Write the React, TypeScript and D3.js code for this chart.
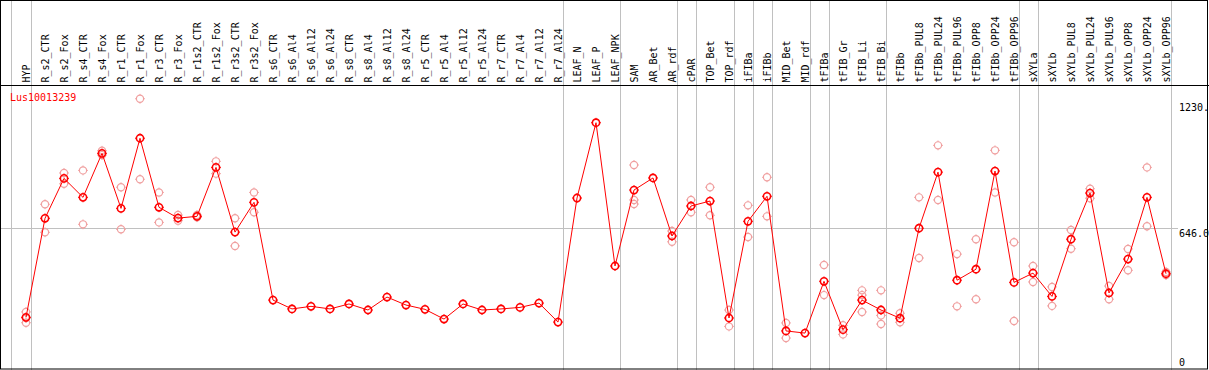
import React, { useEffect, useRef } from 'react';
import * as d3 from 'd3';

const geneId = 'Lus10013239';

const categories = [
  'HYP', 'R_s2_CTR', 'R_s2_Fox', 'R_s4_CTR', 'R_s4_Fox', 'R_r1_CTR', 'R_r1_Fox', 'R_r3_CTR', 'R_r3_Fox',
  'R_r1s2_CTR', 'R_r1s2_Fox', 'R_r3s2_CTR', 'R_r3s2_Fox', 'R_s6_CTR', 'R_s6_Al4', 'R_s6_Al12', 'R_s6_Al24',
  'R_s8_CTR', 'R_s8_Al4', 'R_s8_Al12', 'R_s8_Al24', 'R_r5_CTR', 'R_r5_Al4', 'R_r5_Al12', 'R_r5_Al24',
  'R_r7_CTR', 'R_r7_Al4', 'R_r7_Al12', 'R_r7_Al24', 'LEAF_N', 'LEAF_P', 'LEAF_NPK', 'SAM', 'AR_Bet', 'AR_rdf',
  'cPAR', 'TOP_Bet', 'TOP_rdf', 'iFIBa', 'iFIBb', 'MID_Bet', 'MID_rdf', 'tFIBa', 'tFIB_Gr', 'tFIB_Li', 'tFIB_Bi',
  'tFIBb', 'tFIBb_PUL8', 'tFIBb_PUL24', 'tFIBb_PUL96', 'tFIBb_OPP8', 'tFIBb_OPP24', 'tFIBb_OPP96',
  'sXYLa', 'sXYLb', 'sXYLb_PUL8', 'sXYLb_PUL24', 'sXYLb_PUL96', 'sXYLb_OPP8', 'sXYLb_OPP24', 'sXYLb_OPP96',
];

const means = [
  232, 691, 876, 788, 992, 737, 1062, 742, 692,
  700, 927, 627, 765, 312, 271, 283, 271,
  294, 266, 326, 289, 269, 224, 294, 266,
  271, 278, 298, 210, 785, 1134, 470, 822, 878, 609,
  748, 771, 229, 677, 793, 169, 159, 399, 175, 312, 266,
  228, 645, 905, 404, 455, 910, 394,
  437, 329, 594, 808, 345, 502, 788, 434,
];

const replicates = [
  [257, 229, 207], [756, 626], [901, 851], [913, 663], [1004, 984], [835, 640], [1245, 872], [811, 672], [706, 680],
  [706, 696], [955, 898], [691, 563], [811, 719], [], [], [], [],
  [], [], [], [], [], [], [], [],
  [], [], [], [], [], [], [], [938, 776, 757], [], [632, 582],
  [776, 719], [835, 705], [266, 190], [751, 604], [881, 700], [206, 136], [], [475, 335], [195, 153], [357, 335, 257], [357, 241, 201],
  [251, 209], [788, 507], [1029, 776], [525, 283], [594, 316], [1006, 811], [580, 215],
  [470, 396], [373, 285], [637, 550], [828, 784], [377, 316], [549, 450], [927, 654], [442, 428],
];

// a grey separator is drawn after each of these
const groupEnds = ['HYP', 'R_r7_Al24', 'LEAF_NPK', 'AR_rdf', 'cPAR', 'TOP_rdf', 'iFIBa', 'iFIBb', 'MID_rdf',
  'tFIBa', 'tFIB_Bi', 'tFIBb_OPP96', 'sXYLa', 'sXYLb_OPP96'];

const yTicks = [0, 646, 1230];
const yTickLabels = ['0', '646.0', '1230.0'];

const W = 1209;
const H = 370;
const FONT = '"DejaVu Sans Mono", monospace';

function marker(g, cx, cy, color, sw) {
  const r = 3.6;
  g.append('circle')
    .attr('cx', cx).attr('cy', cy).attr('r', r)
    .attr('fill', 'none').attr('stroke', color).attr('stroke-width', sw);
  [[0, -1], [0, 1], [-1, 0], [1, 0]].forEach(([dx, dy]) => {
    g.append('line')
      .attr('x1', cx + dx * r).attr('y1', cy + dy * r)
      .attr('x2', cx + dx * (r + 1.3)).attr('y2', cy + dy * (r + 1.3))
      .attr('stroke', color).attr('stroke-width', 1);
  });
}

export default function App() {
  const ref = useRef(null);

  useEffect(() => {
    const svg = d3.select(ref.current);
    svg.selectAll('*').remove();

    const xScale = d3.scalePoint().domain(categories).range([26, 1166]);
    const step = xScale.step();
    const yScale = d3.scaleLinear().domain([0, 1230]).range([367.4, 102]);

    svg.append('rect').attr('x', 0).attr('y', 0).attr('width', W).attr('height', H).attr('fill', '#fff');

    // grey separators
    const sepX = [xScale(categories[0]) - step * 0.8, ...groupEnds.map((c) => xScale(c) + step * 0.25)];
    svg.selectAll('line.sep')
      .data(sepX)
      .enter()
      .append('line')
        .attr('x1', (d) => Math.round(d) + 0.5)
        .attr('x2', (d) => Math.round(d) + 0.5)
        .attr('y1', 0)
        .attr('y2', H)
        .attr('stroke', '#c0c0c0')
        .attr('stroke-width', 1);

    // horizontal reference line
    svg.append('line')
      .attr('x1', 1).attr('x2', 1178)
      .attr('y1', Math.round(yScale(646)) + 0.5).attr('y2', Math.round(yScale(646)) + 0.5)
      .attr('stroke', '#c0c0c0');

    // header labels
    svg.selectAll('text.cat')
      .data(categories)
      .enter()
      .append('text')
        .attr('transform', (d) => `translate(${xScale(d) + 0.5}, 82.5) rotate(-90)`)
        .attr('dy', '0.35em')
        .attr('font-family', FONT)
        .attr('font-size', 10)
        .attr('fill', '#000')
        .text((d) => d);

    svg.append('line')
      .attr('x1', 0).attr('x2', W).attr('y1', 85.5).attr('y2', 85.5)
      .attr('stroke', '#000');

    // y labels
    svg.selectAll('text.ytick')
      .data(yTicks)
      .enter()
      .append('text')
        .attr('x', 1179)
        .attr('y', (d, i) => (i === 0 ? 366 : yScale(d) + 8.5))
        .attr('font-family', FONT)
        .attr('font-size', 10)
        .attr('fill', '#000')
        .text((d, i) => yTickLabels[i]);

    svg.append('text')
      .attr('x', 10).attr('y', 100.5)
      .attr('font-family', FONT)
      .attr('font-size', 10)
      .attr('fill', '#ff0000')
      .text(geneId);

    // replicates
    const repG = svg.append('g');
    categories.forEach((c, i) => {
      replicates[i].forEach((v) => marker(repG, xScale(c), yScale(v), '#f0a0a0', 1.2));
    });

    // mean line
    const line = d3.line()
      .x((d, i) => xScale(categories[i]))
      .y((d) => yScale(d));
    svg.append('path')
      .datum(means)
      .attr('d', line)
      .attr('fill', 'none')
      .attr('stroke', '#ff0000')
      .attr('stroke-width', 1);

    const meanG = svg.append('g');
    categories.forEach((c, i) => marker(meanG, xScale(c), yScale(means[i]), '#ff0000', 1.6));

    // frame
    svg.append('rect')
      .attr('x', 0.5).attr('y', 0.5)
      .attr('width', 1207).attr('height', 368.5)
      .attr('fill', 'none')
      .attr('stroke', '#000')
      .attr('stroke-width', 1);
  }, []);

  return (
    <svg ref={ref} width={W} height={H} style={{ position: 'absolute', left: 0, top: 0 }} />
  );
}
